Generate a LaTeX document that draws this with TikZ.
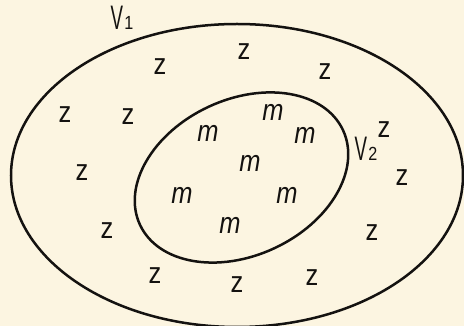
\documentclass[tikz,border=0pt]{standalone}
\usepackage{fontspec}
\usepackage{graphicx}
\setmainfont{Liberation Sans}
\definecolor{paper}{RGB}{252,245,225}
\definecolor{ink}{RGB}{20,18,16}
\tikzset{
  letter/.style={inner sep=0pt, outer sep=0pt, text=ink, font=\fontsize{30}{30}\selectfont},
  curve/.style={draw=ink, line width=2.5pt},
}
\newcommand{\zz}{\scalebox{0.85}[1]{z}}
\newcommand{\mm}{\scalebox{0.85}[1]{\itshape m}}
\newcommand{\vlabel}[1]{\scalebox{0.55}[1]{\fontsize{34}{34}\selectfont V}\hspace{1.5pt}\scalebox{0.85}[1]{\fontsize{19}{19}\selectfont #1}}
\begin{document}
\begin{tikzpicture}[x=1pt,y=1pt]
\fill[paper] (0,0) rectangle (464,326);
\useasboundingbox (0,0) rectangle (464,326);
% outer and inner sets
\draw[curve] (237,150.5) ellipse [x radius=226, y radius=151.5];
\draw[curve, rotate around={25:(241.5,148.5)}] (241.5,148.5) ellipse [x radius=112, y radius=78];
% labels
\node[letter, anchor=base] (v1) at (122,296) {\vlabel{1}};
\node[letter, anchor=base] (v2) at (366,165) {\vlabel{2}};
% z elements
\node[letter] (z1) at (160,259) {\zz};
\node[letter] (z2) at (244,274) {\zz};
\node[letter] (z3) at (325,254) {\zz};
\node[letter] (z4) at (65,211) {\zz};
\node[letter] (z5) at (128,209) {\zz};
\node[letter] (z6) at (384,196) {\zz};
\node[letter] (z7) at (82,153) {\zz};
\node[letter] (z8) at (402,148) {\zz};
\node[letter] (z9) at (107,95) {\zz};
\node[letter] (z10) at (372,93) {\zz};
\node[letter] (z11) at (155,50) {\zz};
\node[letter] (z12) at (237,41) {\zz};
\node[letter] (z13) at (312,48) {\zz};
% m elements
\node[letter] (m1) at (208,193) {\mm};
\node[letter] (m2) at (273,214) {\mm};
\node[letter] (m3) at (305,191) {\mm};
\node[letter] (m4) at (250,163) {\mm};
\node[letter] (m5) at (182,131) {\mm};
\node[letter] (m6) at (287,131) {\mm};
\node[letter] (m7) at (230,101) {\mm};
\end{tikzpicture}
\end{document}
